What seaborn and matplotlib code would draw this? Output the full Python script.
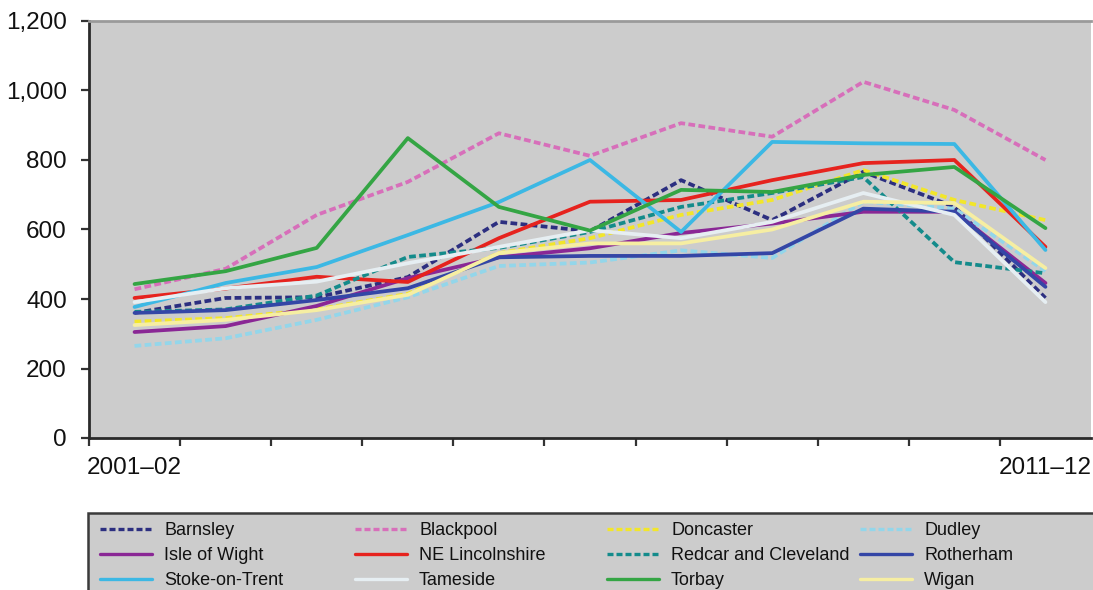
import matplotlib
matplotlib.use("Agg")
import matplotlib.pyplot as plt
from matplotlib.lines import Line2D
from matplotlib.patches import Rectangle
from matplotlib.ticker import FuncFormatter, FixedLocator
import numpy as np
import pandas as pd
import seaborn as sns

# Years shown on the category axis (only the first and last are labelled)
years = ["2001–02", "2002–03", "2003–04", "2004–05", "2005–06", "2006–07",
         "2007–08", "2008–09", "2009–10", "2010–11", "2011–12"]

barnsley = [360, 403, 405, 463, 622, 595, 742, 627, 766, 665, 403]
blackpool = [428, 487, 642, 737, 877, 812, 906, 867, 1025, 944, 800]
doncaster = [335, 345, 370, 415, 532, 575, 642, 685, 771, 685, 627]
dudley = [265, 287, 340, 405, 495, 505, 540, 518, 680, 660, 480]
isle_of_wight = [305, 322, 380, 460, 520, 546, 590, 617, 651, 651, 446]
ne_lincolnshire = [403, 430, 464, 449, 575, 680, 685, 742, 791, 800, 550]
redcar = [363, 370, 410, 521, 547, 593, 665, 705, 751, 506, 474]
rotherham = [360, 368, 397, 431, 520, 524, 524, 532, 660, 651, 435]
stoke = [377, 446, 492, 584, 679, 800, 593, 852, 848, 846, 541]
tameside = [391, 431, 450, 503, 550, 598, 575, 622, 705, 642, 391]
torbay = [443, 480, 547, 863, 665, 597, 714, 708, 757, 780, 604]
wigan = [325, 340, 368, 412, 532, 560, 560, 600, 680, 676, 489]

areas = ["Barnsley", "Blackpool", "Doncaster", "Dudley",
         "Isle of Wight", "NE Lincolnshire", "Redcar and Cleveland", "Rotherham",
         "Stoke-on-Trent", "Tameside", "Torbay", "Wigan"]
series = [barnsley, blackpool, doncaster, dudley,
          isle_of_wight, ne_lincolnshire, redcar, rotherham,
          stoke, tameside, torbay, wigan]

colors = {
    "Barnsley": "#2c2f80",
    "Blackpool": "#d76fba",
    "Doncaster": "#f2e62a",
    "Dudley": "#93d6ea",
    "Isle of Wight": "#8a2795",
    "NE Lincolnshire": "#e6231e",
    "Redcar and Cleveland": "#148b8b",
    "Rotherham": "#3446a6",
    "Stoke-on-Trent": "#3cb8e4",
    "Tameside": "#e6eef2",
    "Torbay": "#34a544",
    "Wigan": "#f6eea2",
}
dashed = {"Barnsley", "Blackpool", "Doncaster", "Dudley", "Redcar and Cleveland"}

df = pd.DataFrame({
    "area": np.repeat(areas, len(years)),
    "pos": np.tile(np.arange(len(years)), len(areas)),
    "value": np.concatenate(series),
})

sns.set_theme(style="white")
plt.rcParams["font.family"] = ["Liberation Sans", "DejaVu Sans"]

fig = plt.figure(figsize=(10.93, 5.90), dpi=100)
ax = fig.add_axes([89 / 1093, 1 - 438 / 590, 1002 / 1093, 417 / 590])
ax.set_facecolor("#cccccc")

LW = 2.7
DASH = (0, (1.8, 0.9))
handles = {}
for name in areas:
    sub = df[df["area"] == name]
    ls = DASH if name in dashed else "-"
    sns.lineplot(data=sub, x="pos", y="value", ax=ax, color=colors[name],
                 linewidth=LW, linestyle=ls, legend=False)
    handles[name] = Line2D([], [], color=colors[name], linewidth=2.4, linestyle=ls)

ax.set_xlim(-0.5, len(years) - 0.5)
ax.set_ylim(0, 1200)
ax.set_xlabel("")
ax.set_ylabel("")

# y axis
ax.set_yticks(np.arange(0, 1201, 200))
ax.yaxis.set_major_formatter(FuncFormatter(lambda v, p: f"{int(v):,}"))
ax.tick_params(axis="y", which="major", direction="out", length=6, width=1.6,
               color="#333333", labelsize=17.5, pad=10, left=True, labelcolor="#111111")

# x axis: tick marks on category boundaries, labels at first and last year
ax.xaxis.set_major_locator(FixedLocator(np.arange(-0.5, len(years) - 1, 1.0)))
ax.xaxis.set_major_formatter(FuncFormatter(lambda v, p: ""))
ax.xaxis.set_minor_locator(FixedLocator([0, len(years) - 1]))
ax.xaxis.set_minor_formatter(FuncFormatter(
    lambda v, p: years[int(round(v))]))
ax.tick_params(axis="x", which="major", direction="out", length=6, width=1.6,
               color="#333333", bottom=True)
ax.tick_params(axis="x", which="minor", length=0, labelsize=17.5, pad=13.5,
               labelcolor="#111111", bottom=True)
ax.grid(False)

for side in ("left", "bottom"):
    ax.spines[side].set_color("#2a2a2a")
    ax.spines[side].set_linewidth(2.0)
ax.spines["top"].set_color("#9a9a9a")
ax.spines["top"].set_linewidth(2.0)
ax.spines["right"].set_visible(False)

# legend panel
fig.patches.append(Rectangle((88 / 1093, -0.2), 1.2, 0.2 + 1 - 513 / 590,
                             transform=fig.transFigure, facecolor="#cccccc",
                             edgecolor="#3a3a3a", linewidth=1.8, zorder=0))

columns = [["Barnsley", "Isle of Wight", "Stoke-on-Trent"],
           ["Blackpool", "NE Lincolnshire", "Tameside"],
           ["Doncaster", "Redcar and Cleveland", "Torbay"],
           ["Dudley", "Rotherham", "Wigan"]]
col_x = [100, 355, 607, 860]
for names, x in zip(columns, col_x):
    leg = fig.legend([handles[n] for n in names], names, loc="upper left",
                     bbox_to_anchor=(x / 1093, 1 - 522 / 590), frameon=False,
                     fontsize=13, handlelength=2.9, handletextpad=0.65,
                     labelspacing=0.45, borderpad=0, borderaxespad=0)
    for t in leg.get_texts():
        t.set_color("#111111")

fig.savefig("out.png", dpi=100, facecolor="white")
